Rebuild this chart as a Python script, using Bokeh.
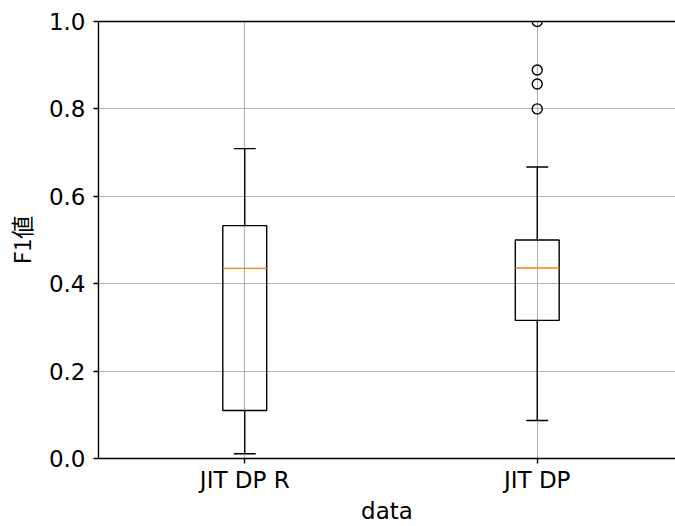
from bokeh.plotting import figure
from bokeh.models import FixedTicker, LinearAxis, Range1d, ColumnDataSource
from bokeh.embed import file_html
from bokeh.resources import INLINE

# ---- data ----
labels = ["JIT DP R", "JIT DP"]
q1 = [0.110, 0.316]
median = [0.435, 0.436]
q3 = [0.533, 0.500]
whisker_low = [0.011, 0.087]
whisker_high = [0.709, 0.667]
outlier_group = ["JIT DP", "JIT DP", "JIT DP", "JIT DP"]
outlier_values = [0.800, 0.857, 0.889, 1.000]
y_ticks = [0.0, 0.2, 0.4, 0.6, 0.8, 1.0]
y_tick_labels = ["0.0", "0.2", "0.4", "0.6", "0.8", "1.0"]
x_label = "data"
y_label = "F1値"

FONT = "DejaVu Sans"
CJK_FONT = "Noto Sans CJK JP"
FS = "23px"
LW = 1.4

pos = [i + 1 for i in range(len(labels))]
box_w = 0.15
cap_w = 0.075

p = figure(width=675, height=526, output_backend="svg", toolbar_location=None,
           x_range=Range1d(0.5, 0.5 + 578 / 293.0), y_range=Range1d(0.0, 1.0),
           min_border_left=97, min_border_right=0, min_border_top=21, min_border_bottom=68)
p.outline_line_color = None
p.background_fill_color = "white"
p.border_fill_color = "white"

src = ColumnDataSource(dict(x=pos, q1=q1, med=median, q3=q3, lo=whisker_low, hi=whisker_high,
                            left=[x - box_w / 2 for x in pos], right=[x + box_w / 2 for x in pos],
                            cl=[x - cap_w / 2 for x in pos], cr=[x + cap_w / 2 for x in pos]))

# whiskers
p.segment(x0="x", y0="q3", x1="x", y1="hi", source=src, line_color="black", line_width=LW)
p.segment(x0="x", y0="lo", x1="x", y1="q1", source=src, line_color="black", line_width=LW)
# caps
p.segment(x0="cl", y0="hi", x1="cr", y1="hi", source=src, line_color="black", line_width=LW)
p.segment(x0="cl", y0="lo", x1="cr", y1="lo", source=src, line_color="black", line_width=LW)
# boxes
p.quad(left="left", right="right", bottom="q1", top="q3", source=src,
       fill_color=None, line_color="black", line_width=LW)
# medians
p.segment(x0="left", y0="med", x1="right", y1="med", source=src, line_color="#ff7f0e", line_width=LW)
# outliers
ox = [pos[labels.index(g)] for g in outlier_group]
p.scatter(ox, outlier_values, marker="circle", size=10, fill_color=None,
          line_color="black", line_width=LW)

# grid
p.xgrid.ticker = FixedTicker(ticks=pos)
p.ygrid.ticker = FixedTicker(ticks=y_ticks)
for g in (p.xgrid, p.ygrid):
    g.grid_line_color = "#b0b0b0"
    g.grid_line_width = 1.1

# axes
xa = p.xaxis[0]
xa.ticker = FixedTicker(ticks=pos)
xa.major_label_overrides = {x: l for x, l in zip(pos, labels)}
xa.axis_label = x_label
ya = p.yaxis[0]
ya.ticker = FixedTicker(ticks=y_ticks)
ya.major_label_overrides = {t: l for t, l in zip(y_ticks, y_tick_labels)}
ya.axis_label = y_label
for a in (xa, ya):
    a.axis_line_color = "black"
    a.axis_line_width = LW
    a.major_tick_line_color = "black"
    a.major_tick_line_width = LW
    a.major_tick_out = 5
    a.major_tick_in = 0
    a.minor_tick_line_color = None
    a.major_label_text_font = FONT
    a.major_label_text_font_size = FS
    a.major_label_text_color = "black"
    a.axis_label_text_font = FONT
    a.axis_label_text_font_size = FS
    a.axis_label_text_font_style = "normal"
    a.axis_label_text_color = "black"
ya.axis_label_text_font = CJK_FONT
xa.major_label_standoff = 3
xa.axis_label_standoff = 2
ya.major_label_standoff = 8
ya.axis_label_standoff = 8

top = LinearAxis(ticker=FixedTicker(ticks=[]), axis_line_color="black", axis_line_width=LW,
                 major_tick_line_color=None, minor_tick_line_color=None,
                 major_label_text_font_size="0px")
p.add_layout(top, "above")

open("out.html", "w").write(file_html(p, INLINE))
